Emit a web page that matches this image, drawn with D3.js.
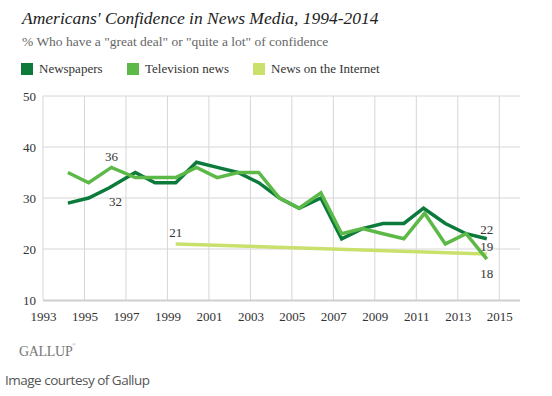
<!DOCTYPE html>
<html>
<head>
<meta charset="utf-8">
<script src="https://cdn.jsdelivr.net/npm/d3@7"></script>
<style>
  body { margin: 0; background: #fff; }
  svg { display: block; }
</style>
</head>
<body>
<div id="chart"></div>
<script>
// data (x = fractional year of the survey)
var newspaperYears = [1994.2, 1995.2, 1996.2, 1997.45, 1998.4, 1999.4, 2000.4, 2001.4, 2002.4, 2003.4, 2004.4, 2005.35, 2006.4, 2007.4, 2008.4, 2009.4, 2010.4, 2011.35, 2012.4, 2013.4, 2014.4]
var newspaperValues = [29, 30, 32, 35, 33, 33, 37, 36, 35, 33, 30, 28, 30, 22, 24, 25, 25, 28, 25, 23, 22]
var tvYears = [1994.2, 1995.2, 1996.3, 1997.45, 1998.4, 1999.4, 2000.4, 2001.4, 2002.4, 2003.4, 2004.4, 2005.35, 2006.4, 2007.4, 2008.4, 2009.4, 2010.4, 2011.4, 2012.4, 2013.4, 2014.4]
var tvValues = [35, 33, 36, 34, 34, 34, 36, 34, 35, 35, 30, 28, 31, 23, 24, 23, 22, 27, 21, 23, 18]
var internetYears = [1999.4, 2014.4]
var internetValues = [21, 19]
var xTicks = [1993, 1995, 1997, 1999, 2001, 2003, 2005, 2007, 2009, 2011, 2013, 2015]
var yTicks = [10, 20, 30, 40, 50]
var seriesNames = ["Newspapers", "Television news", "News on the Internet"]
var seriesColors = ["#0b7a3b", "#5cb947", "#c9e06c"]

var width = 552, height = 396
var margin = { top: 96, left: 43, right: 32, bottom: 96 }

var svg = d3.select("#chart").append("svg")
    .attr("width", width)
    .attr("height", height)

var x = d3.scaleLinear()
    .domain([1993, 2016])
    .range([margin.left, width - margin.right])

var y = d3.scaleLinear()
    .domain([10, 50])
    .range([height - margin.bottom, margin.top])

// title + subtitle
svg.append("text")
    .attr("x", 22).attr("y", 24)
    .attr("font-family", "Liberation Serif, serif")
    .attr("font-style", "italic")
    .attr("font-size", "17.5px")
    .attr("fill", "#222")
    .text("Americans' Confidence in News Media, 1994-2014")

svg.append("text")
    .attr("x", 22).attr("y", 46)
    .attr("font-family", "Liberation Serif, serif")
    .attr("font-size", "13.5px")
    .attr("fill", "#666")
    .text('% Who have a "great deal" or "quite a lot" of confidence')

// legend
var legendX = [21, 127, 253]
var legend = svg.selectAll(".legend")
    .data(seriesNames)
    .enter().append("g")
    .attr("class", "legend")
    .attr("transform", function (d, i) { return "translate(" + legendX[i] + ",63)" })
legend.append("rect")
    .attr("width", 12).attr("height", 12)
    .attr("fill", function (d, i) { return seriesColors[i] })
legend.append("text")
    .attr("x", 18).attr("y", 10)
    .attr("font-family", "Liberation Serif, serif")
    .attr("font-size", "13px")
    .attr("fill", "#333")
    .text(function (d) { return d })

// grid
var grid = svg.append("g")
grid.selectAll(".hgrid")
    .data(yTicks.filter(function (d) { return d > 10 }))
    .enter().append("line")
    .attr("x1", x(1993)).attr("x2", x(2016))
    .attr("y1", function (d) { return y(d) })
    .attr("y2", function (d) { return y(d) })
    .attr("stroke", "#d6d6d6")
grid.selectAll(".vgrid")
    .data(xTicks)
    .enter().append("line")
    .attr("x1", function (d) { return x(d) })
    .attr("x2", function (d) { return x(d) })
    .attr("y1", y(50)).attr("y2", y(10))
    .attr("stroke", "#d6d6d6")
grid.append("line")
    .attr("x1", x(1993)).attr("x2", x(2016))
    .attr("y1", y(10) + 0.5).attr("y2", y(10) + 0.5)
    .attr("stroke", "#cfcfcf")
    .attr("stroke-width", 2)

// axes
var xAxis = d3.axisBottom(x).tickValues(xTicks).tickFormat(d3.format("d")).tickSize(0).tickPadding(12)
var gx = svg.append("g")
    .attr("transform", "translate(0," + y(10) + ")")
    .call(xAxis)
gx.select(".domain").remove()
gx.selectAll("text")
    .attr("font-family", "Liberation Serif, serif")
    .attr("font-size", "13px")
    .attr("fill", "#333")

var yAxis = d3.axisLeft(y).tickValues(yTicks).tickSize(0).tickPadding(7)
var gy = svg.append("g")
    .attr("transform", "translate(" + x(1993) + ",0)")
    .call(yAxis)
gy.select(".domain").remove()
gy.selectAll("text")
    .attr("font-family", "Liberation Serif, serif")
    .attr("font-size", "13px")
    .attr("fill", "#333")

// lines
var line = d3.line()
    .x(function (d) { return x(d[0]) })
    .y(function (d) { return y(d[1]) })

var series = [
    d3.zip(internetYears, internetValues),
    d3.zip(newspaperYears, newspaperValues),
    d3.zip(tvYears, tvValues)
]
var seriesColorOrder = [seriesColors[2], seriesColors[0], seriesColors[1]]

svg.selectAll(".series")
    .data(series)
    .enter().append("path")
    .attr("class", "series")
    .attr("d", line)
    .attr("fill", "none")
    .attr("stroke", function (d, i) { return seriesColorOrder[i] })
    .attr("stroke-width", 3.5)
    .attr("stroke-linejoin", "miter")

// value labels
var labels = [
    { t: tvValues[2], x: tvYears[2], v: tvValues[2], dy: -11 },
    { t: newspaperValues[2], x: newspaperYears[2] + 0.3, v: newspaperValues[2], dy: 14 },
    { t: internetValues[0], x: internetYears[0], v: internetValues[0], dy: -11 },
    { t: newspaperValues[20], x: 2014.4, v: newspaperValues[20], dy: -9 },
    { t: internetValues[1], x: 2014.4, v: internetValues[1], dy: -8 },
    { t: tvValues[20], x: 2014.4, v: tvValues[20], dy: 14 }
]
svg.selectAll(".vlabel")
    .data(labels)
    .enter().append("text")
    .attr("class", "vlabel")
    .attr("x", function (d) { return x(d.x) })
    .attr("y", function (d) { return y(d.v) + d.dy })
    .attr("dy", "0.35em")
    .attr("text-anchor", "middle")
    .attr("font-family", "Liberation Serif, serif")
    .attr("font-size", "13px")
    .attr("fill", "#333")
    .text(function (d) { return d.t })

// footer
svg.append("text")
    .attr("x", 19).attr("y", 356)
    .attr("font-family", "Liberation Serif, serif")
    .attr("font-size", "14px")
    .attr("letter-spacing", "-0.3px")
    .attr("fill", "#777")
    .text("GALLUP")
svg.append("text")
    .attr("x", 72).attr("y", 346)
    .attr("font-family", "Liberation Serif, serif")
    .attr("font-size", "5px")
    .attr("fill", "#999")
    .text("®")

svg.append("text")
    .attr("x", 5).attr("y", 385)
    .attr("font-family", "Open Sans, sans-serif")
    .attr("font-size", "13.5px")
    .attr("fill", "#555")
    .attr("letter-spacing", "-0.5px")
    .text("Image courtesy of Gallup")
</script>
</body>
</html>
